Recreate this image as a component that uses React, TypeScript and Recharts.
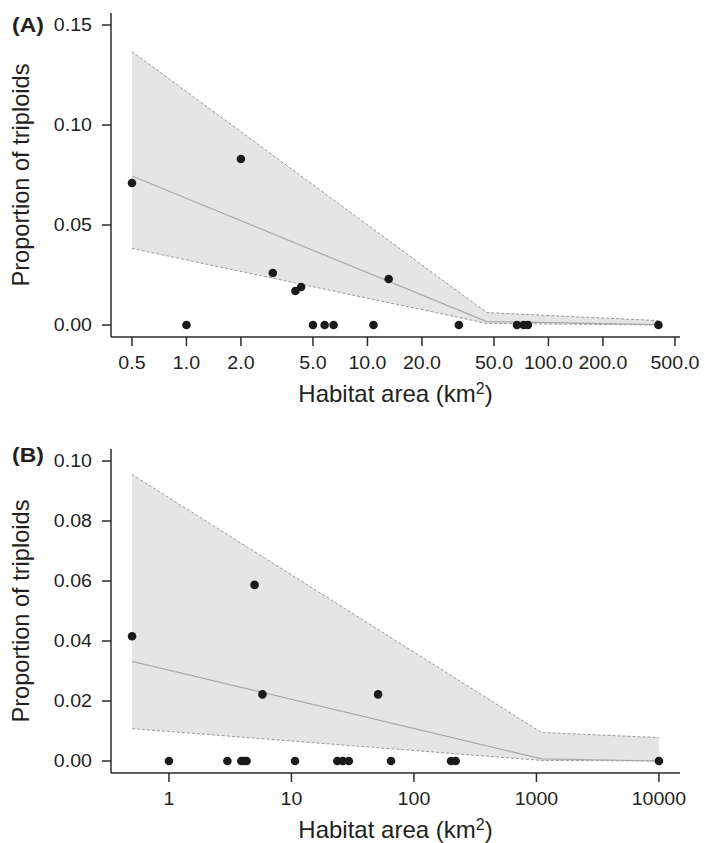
import { ComposedChart, XAxis, YAxis, Area, Line, Scatter } from "recharts";

// Panel A: proportion of triploids per site vs habitat area
const areaA = [0.5, 1.0, 2.0, 3.0, 4.0, 4.3, 5.0, 5.8, 6.5, 10.8, 13.1, 32, 67, 73, 77, 405];
const propA = [0.071, 0, 0.083, 0.026, 0.017, 0.019, 0, 0, 0, 0, 0.023, 0, 0, 0, 0, 0];
const fitXA = [0.5, 45.6, 405];
const fitA = [0.0745, 0.0017, 0.0002];
const upperA = [0.1367, 0.0062, 0.0022];
const lowerA = [0.0383, 0.0008, 0.0];
const xTicksA = [0.5, 1, 2, 5, 10, 20, 50, 100, 200, 500];
const yTicksA = [0, 0.05, 0.1, 0.15];

// Panel B
const areaB = [0.5, 1, 3.0, 3.9, 4.1, 4.3, 5.0, 5.8, 10.7, 23.7, 26.3, 29.4, 51, 65, 201, 219, 10000];
const propB = [0.0416, 0, 0, 0, 0, 0, 0.0587, 0.0222, 0, 0, 0, 0, 0.0222, 0, 0, 0, 0];
const fitXB = [0.5, 1100, 10000];
const fitB = [0.0332, 0.0007, 0.0];
const upperB = [0.0955, 0.0095, 0.0078];
const lowerB = [0.0108, 0.0002, 0.0];
const xTicksB = [1, 10, 100, 1000, 10000];
const yTicksB = [0, 0.02, 0.04, 0.06, 0.08, 0.1];

const FONT = "'Liberation Sans', Arial, Helvetica, sans-serif";
const INK = "#231f20";
const AXIS = "#2b2b2b";
const STRETCH = 1.12;

const PLOT_LEFT = 111;
const PLOT_RIGHT = 680;
const PLOT_H = 324;

interface PanelProps {
  letter: string;
  letterY: number;
  top: number;
  height: number;
  marginTop: number;
  xs: number[];
  ys: number[];
  fitX: number[];
  fit: number[];
  upper: number[];
  lower: number[];
  xDomain: [number, number];
  yDomain: [number, number];
  xTicks: number[];
  yTicks: number[];
  xFmt: (v: number) => string;
}

function Panel(p: PanelProps) {
  const points = p.xs.map((x, i) => ({ x, y: p.ys[i] }));
  const table = p.fitX.map((x, i) => ({
    x,
    fit: p.fit[i],
    hi: p.upper[i],
    lo: p.lower[i],
    band: [p.lower[i], p.upper[i]],
  }));
  const plotBottom = p.marginTop + PLOT_H;
  const midX = (PLOT_LEFT + PLOT_RIGHT) / 2;
  const midY = p.marginTop + PLOT_H / 2;

  const xTick = (t: any) => (
    <text
      transform={`translate(${t.x},${plotBottom + 32}) scale(${STRETCH},1)`}
      textAnchor="middle"
      fontFamily={FONT}
      fontSize={17.5}
      fill={INK}
    >
      {p.xFmt(t.payload.value)}
    </text>
  );

  const yTick = (t: any) => (
    <text
      transform={`translate(92,${t.y + 6}) scale(${STRETCH},1)`}
      textAnchor="end"
      fontFamily={FONT}
      fontSize={17.5}
      fill={INK}
    >
      {t.payload.value.toFixed(2)}
    </text>
  );

  const yTitle = () => (
    <g>
      <text
        transform={`translate(29,${midY}) rotate(-90)`}
        textAnchor="middle"
        fontFamily={FONT}
        fontSize={23.6}
        fill={INK}
      >
        Proportion of triploids
      </text>
      <text
        transform={`translate(12,${p.letterY}) scale(${STRETCH},1)`}
        fontFamily={FONT}
        fontSize={20.5}
        fontWeight="bold"
        fill={INK}
      >
        {p.letter}
      </text>
    </g>
  );

  const xTitle = () => (
    <text
      x={midX}
      y={plotBottom + 64.5}
      textAnchor="middle"
      fontFamily={FONT}
      fontSize={24}
      fill={INK}
    >
      Habitat area (km
      <tspan dy={-8} fontSize={16}>
        2
      </tspan>
      <tspan dy={8}>)</tspan>
    </text>
  );

  return (
    <div style={{ position: "absolute", left: 0, top: p.top }}>
      <ComposedChart
        width={705}
        height={p.height}
        data={table}
        margin={{ top: p.marginTop, right: 705 - PLOT_RIGHT, bottom: 0, left: 0 }}
      >
        <XAxis
          dataKey="x"
          type="number"
          scale="log"
          domain={p.xDomain}
          allowDataOverflow
          ticks={p.xTicks}
          interval={0}
          height={p.height - plotBottom}
          tickSize={9}
          stroke={AXIS}
          strokeWidth={1.5}
          tick={xTick}
          label={{ content: xTitle }}
        />
        <YAxis
          type="number"
          domain={p.yDomain}
          allowDataOverflow
          ticks={p.yTicks}
          interval={0}
          width={PLOT_LEFT}
          tickSize={9}
          stroke={AXIS}
          strokeWidth={1.5}
          tick={yTick}
          label={{ content: yTitle }}
        />
        <Area
          dataKey="band"
          fill="#e5e5e5"
          fillOpacity={1}
          stroke="none"
          isAnimationActive={false}
        />
        <Line
          dataKey="hi"
          stroke="#9a9a9a"
          strokeWidth={1}
          strokeDasharray="3 2"
          dot={false}
          isAnimationActive={false}
        />
        <Line
          dataKey="lo"
          stroke="#9a9a9a"
          strokeWidth={1}
          strokeDasharray="3 2"
          dot={false}
          isAnimationActive={false}
        />
        <Line
          dataKey="fit"
          stroke="#a8a8a8"
          strokeWidth={1.2}
          dot={false}
          isAnimationActive={false}
        />
        <Scatter
          data={points}
          dataKey="y"
          isAnimationActive={false}
          shape={(s: any) => <circle cx={s.cx} cy={s.cy} r={4.3} fill="#1a1a1a" />}
        />
      </ComposedChart>
    </div>
  );
}

export default function App() {
  return (
    <div style={{ position: "absolute", left: 0, top: 0, width: 705, height: 843, background: "#fff" }}>
      <Panel
        letter="(A)"
        letterY={31.7}
        top={0}
        height={420}
        marginTop={13}
        xs={areaA}
        ys={propA}
        fitX={fitXA}
        fit={fitA}
        upper={upperA}
        lower={lowerA}
        xDomain={[0.383, 533]}
        yDomain={[-0.006, 0.156]}
        xTicks={xTicksA}
        yTicks={yTicksA}
        xFmt={(v) => v.toFixed(1)}
      />
      <Panel
        letter="(B)"
        letterY={41.7}
        top={420}
        height={423}
        marginTop={29}
        xs={areaB}
        ys={propB}
        fitX={fitXB}
        fit={fitB}
        upper={upperB}
        lower={lowerB}
        xDomain={[0.3365, 14860]}
        yDomain={[-0.004, 0.104]}
        xTicks={xTicksB}
        yTicks={yTicksB}
        xFmt={(v) => String(v)}
      />
    </div>
  );
}
